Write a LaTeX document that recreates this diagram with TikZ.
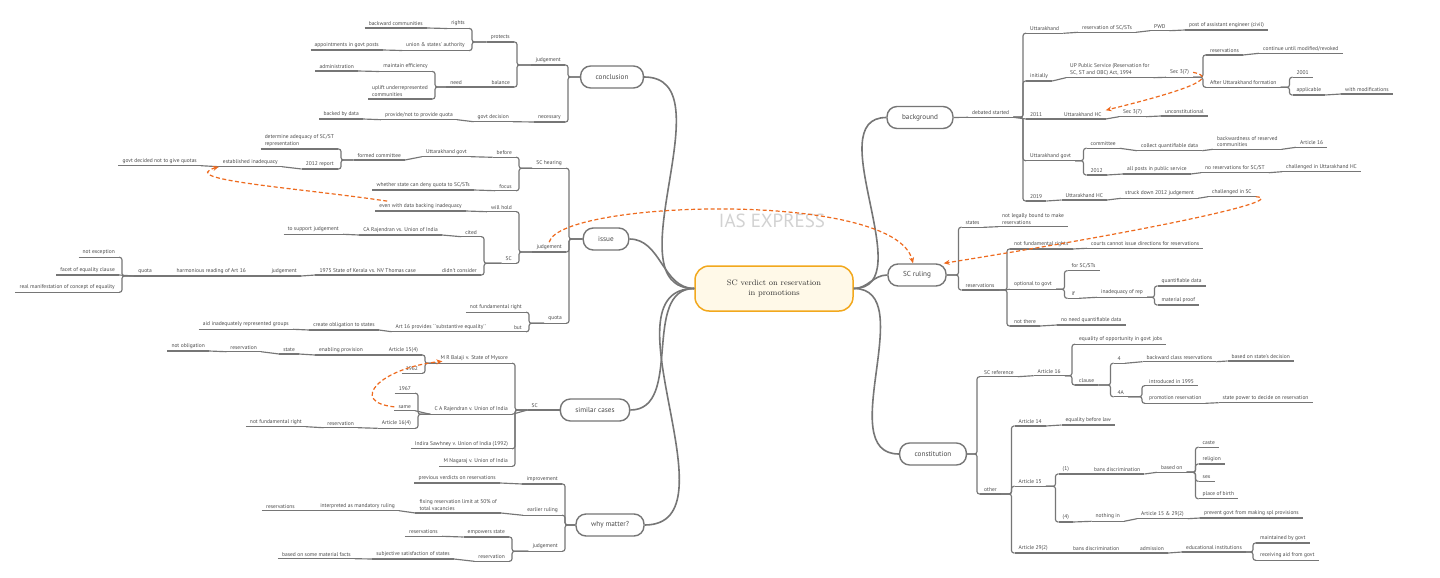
\documentclass[tikz,border=0pt]{standalone}
\usepackage{fontspec}
\newfontfamily\mapfont{PT Sans}
\usetikzlibrary{arrows.meta}
\definecolor{linegray}{HTML}{767676}
\definecolor{txtgray}{HTML}{4A4A4A}
\definecolor{xorange}{HTML}{EE6A1E}
\definecolor{coreline}{HTML}{F2A81D}
\definecolor{corefill}{HTML}{FFF9E8}
\definecolor{wmarkgray}{HTML}{D2D2D2}
\tikzset{
  uline/.style={draw=linegray, line width=1.15pt},
  topic/.style={font=\mapfont\fontsize{5.5}{6.6}\selectfont, text=txtgray, align=left,
    inner xsep=4pt, inner ysep=2.2pt,
    append after command={(\tikzlastnode.south west) edge[uline] (\tikzlastnode.south east)}},
  lt/.style={topic, anchor=south east},
  rt/.style={topic, anchor=south west},
  branch/.style={draw=linegray, line width=1.4pt, fill=white, rounded corners=10pt,
    minimum height=22pt, inner xsep=15pt, font=\mapfont\fontsize{7.2}{9}\selectfont, text=txtgray},
  core/.style={draw=coreline, fill=corefill, line width=1.5pt, rounded corners=14pt,
    minimum width=158pt, minimum height=45pt, align=center, font=\fontsize{8}{10}\selectfont, text=black!80},
  wmark/.style={font=\mapfont\fontsize{19}{22}\selectfont, text=wmarkgray},
  conn/.style={draw=linegray, line width=1.15pt, rounded corners=2.5pt},
  trunk/.style={draw=linegray, line width=1.6pt},
  xref/.style={draw=xorange, line width=1.2pt, dash pattern=on 4pt off 2.5pt,
    -{Stealth[length=6pt,width=5pt]}},
}
\newcommand{\joinL}[2]{\draw[conn] (#2.south east) -- ++(3,0) |- (#1.south west);}
\newcommand{\joinR}[2]{\draw[conn] (#2.south west) -- ++(-3,0) |- (#1.south east);}
\newcommand{\joinLm}[2]{\draw[conn] (#2.south east) -- ++(3,0) |- (#1.west);}
\newcommand{\joinRm}[2]{\draw[conn] (#2.south west) -- ++(-3,0) |- (#1.east);}
\newcommand{\stepL}[2]{\draw[conn] (#1.south west) -- (#2.south east);}
\newcommand{\stepR}[2]{\draw[conn] (#1.south east) -- (#2.south west);}
\newcommand{\stepLm}[2]{\draw[conn] (#1.west) -- (#2.south east);}
\newcommand{\stepRm}[2]{\draw[conn] (#1.east) -- (#2.south west);}

\begin{document}
\begin{tikzpicture}[x=1pt,y=-1pt]
\fill[white] (0,0) rectangle (1440,578);
\useasboundingbox (0,0) rectangle (1440,578);

\node[wmark] (stamp) at (772,221) {IAS EXPRESS};
\node[core] (core) at (774,288.5) {SC verdict on reservation\\in promotions};

% main branches
\node[branch] (concl) at (612,77) {conclusion};
\node[branch] (issue) at (606,239) {issue};
\node[branch] (simil) at (595,410) {similar cases};
\node[branch] (whym) at (610,525) {why matter?};
\node[branch] (backg) at (920,117.5) {background};
\node[branch] (ruling) at (917,275) {SC ruling};
\node[branch] (const) at (933,454) {constitution};
\foreach \nd in {concl,issue,simil,whym} \draw[trunk] (\nd.east) to[out=0,in=180] (core.west);
\foreach \nd in {backg,ruling,const} \draw[trunk] (\nd.west) to[out=180,in=0] (core.east);

% conclusion
\node[lt] (cJud) at (565,65) {judgement};
\node[lt] (cNec) at (565,122) {necessary};
\node[lt] (cProt) at (514,42) {protects};
\node[lt] (cBal) at (514,87) {balance};
\node[lt] (cRights) at (469,28.5) {rights};
\node[lt] (cUnion) at (469,50.5) {union \& states' authority};
\node[lt] (cBack) at (427,28) {backward communities};
\node[lt] (cAppt) at (383,50) {appointments in govt posts};
\node[lt] (cNeed) at (466,87) {need};
\node[lt] (cEff) at (432,71.5) {maintain efficiency};
\node[lt] (cUplift) at (432,99) {uplift underrepresented\\communities};
\node[lt] (cAdmin) at (358,71) {administration};
\node[lt] (cGovt) at (513,121.7) {govt decision};
\node[lt] (cProv) at (457,119.7) {provide/not to provide quota};
\node[lt] (cData) at (363,119) {backed by data};
\joinLm{concl}{cJud} \joinLm{concl}{cNec}
\joinL{cJud}{cProt} \joinL{cJud}{cBal}
\joinL{cProt}{cRights} \joinL{cProt}{cUnion}
\stepL{cRights}{cBack} \stepL{cUnion}{cAppt}
\stepL{cBal}{cNeed}
\joinL{cNeed}{cEff} \joinL{cNeed}{cUplift}
\stepL{cEff}{cAdmin}
\stepL{cNec}{cGovt} \stepL{cGovt}{cProv} \stepL{cProv}{cData}

% issue
\node[lt] (iHear) at (566,168.3) {SC hearing};
\node[lt] (iJud) at (566,252) {judgement};
\node[lt] (iQuota) at (566,323.3) {quota};
\node[lt] (iBefore) at (516,157.3) {before};
\node[lt] (iFocus) at (516,190.7) {focus};
\node[lt] (iUkGovt) at (471,156.7) {Uttarakhand govt};
\node[lt] (iFormed) at (405,160) {formed committee};
\node[lt] (iDet) at (338,149) {determine adequacy of SC/ST\\representation};
\node[lt] (iReport) at (338,169) {2012 report};
\node[lt] (iEstab) at (282,166.7) {established inadequacy};
\node[lt] (iDecided) at (201,165.7) {govt decided not to give quotas};
\node[lt] (iWhether) at (474,190) {whether state can deny quota to SC/STs};
\node[lt] (iHold) at (516,211.7) {will hold};
\node[lt] (iSC) at (516,263.3) {SC};
\node[lt] (iEven) at (466,211) {even with data backing inadequacy};
\node[lt] (iCited) at (481,236.7) {cited};
\node[lt] (iDidnt) at (481,275) {didn't consider};
\node[lt] (iCA) at (442,235) {CA Rajendran vs. Union of India};
\node[lt] (iSupport) at (343,234.3) {to support judgement};
\node[lt] (iKerala) at (420,275) {1975 State of Kerala vs. NV Thomas case};
\node[lt] (iKJud) at (301,276) {judgement};
\node[lt] (iHarm) at (250,276) {harmonious reading of Art 16};
\node[lt] (iQ2) at (156,276) {quota};
\node[lt] (iNotExc) at (119,257.3) {not exception};
\node[lt] (iFacet) at (119,275) {facet of equality clause};
\node[lt] (iReal) at (119,292.3) {real manifestation of concept of equality};
\node[lt] (iNotFund) at (526,312.3) {not fundamental right};
\node[lt] (iBut) at (526,331.7) {but};
\node[lt] (iArt16) at (490,331.7) {Art 16 provides ``substantive equality''};
\node[lt] (iCreate) at (379,330) {create obligation to states};
\node[lt] (iAid) at (293,329.3) {aid inadequately represented groups};
\joinLm{issue}{iHear} \joinLm{issue}{iJud} \joinLm{issue}{iQuota}
\joinL{iHear}{iBefore} \joinL{iHear}{iFocus}
\stepL{iBefore}{iUkGovt} \stepL{iUkGovt}{iFormed}
\joinL{iFormed}{iDet} \joinL{iFormed}{iReport}
\stepL{iReport}{iEstab} \stepL{iEstab}{iDecided}
\stepL{iFocus}{iWhether}
\joinL{iJud}{iHold} \joinL{iJud}{iSC}
\stepL{iHold}{iEven}
\joinL{iSC}{iCited} \joinL{iSC}{iDidnt}
\stepL{iCited}{iCA} \stepL{iCA}{iSupport}
\stepL{iDidnt}{iKerala} \stepL{iKerala}{iKJud} \stepL{iKJud}{iHarm} \stepL{iHarm}{iQ2}
\joinL{iQ2}{iNotExc} \stepL{iQ2}{iFacet} \joinL{iQ2}{iReal}
\joinL{iQuota}{iNotFund} \joinL{iQuota}{iBut}
\stepL{iBut}{iArt16} \stepL{iArt16}{iCreate} \stepL{iCreate}{iAid}

% similar cases
\node[lt] (sSC) at (542,410) {SC};
\node[lt] (sBalaji) at (512,363.3) {M R Balaji v. State of Mysore};
\node[lt] (sCA) at (512,414.3) {C A Rajendran v. Union of India};
\node[lt] (sIndira) at (512,448.7) {Indira Sawhney v. Union of India (1992)};
\node[lt] (sNagaraj) at (512,466.3) {M Nagaraj v. Union of India};
\node[lt] (sA154) at (422,355) {Article 15(4)};
\node[lt] (s1962) at (422,373.3) {1962};
\node[lt] (sEnab) at (367,355) {enabling provision};
\node[lt] (sState) at (299,354) {state};
\node[lt] (sRes) at (261,351.7) {reservation};
\node[lt] (sNotObl) at (209,351) {not obligation};
\node[lt] (s1967) at (415,393.3) {1967};
\node[lt] (sSame) at (415,410.7) {same};
\node[lt] (sA164) at (415,428.3) {Article 16(4)};
\node[lt] (sRes2) at (358,427.7) {reservation};
\node[lt] (sNotFund) at (306,426.7) {not fundamental right};
\stepLm{simil}{sSC}
\joinL{sSC}{sBalaji} \stepL{sSC}{sCA} \joinL{sSC}{sIndira} \joinL{sSC}{sNagaraj}
\joinL{sBalaji}{sA154} \joinL{sBalaji}{s1962}
\stepL{sA154}{sEnab} \stepL{sEnab}{sState} \stepL{sState}{sRes} \stepL{sRes}{sNotObl}
\joinL{sCA}{s1967} \stepL{sCA}{sSame} \joinL{sCA}{sA164}
\stepL{sA164}{sRes2} \stepL{sRes2}{sNotFund}

% why matter?
\node[lt] (wImp) at (562,484) {improvement};
\node[lt] (wEarly) at (562,515.3) {earlier ruling};
\node[lt] (wJud) at (562,551.3) {judgement};
\node[lt] (wPrev) at (500,483) {previous verdicts on reservations};
\node[lt] (wFix) at (501,513) {fixing reservation limit at 50\% of\\total vacancies};
\node[lt] (wInterp) at (399,510.7) {interpreted as mandatory ruling};
\node[lt] (wRes) at (299,510.7) {reservations};
\node[lt] (wEmp) at (509,537) {empowers state};
\node[lt] (wRes2) at (509,561.3) {reservation};
\node[lt] (wRes3) at (442,536.3) {reservations};
\node[lt] (wSubj) at (454,559) {subjective satisfaction of states};
\node[lt] (wBased) at (355,558.7) {based on some material facts};
\joinLm{whym}{wImp} \joinLm{whym}{wEarly} \joinLm{whym}{wJud}
\stepL{wImp}{wPrev} \stepL{wEarly}{wFix} \stepL{wFix}{wInterp} \stepL{wInterp}{wRes}
\joinL{wJud}{wEmp} \joinL{wJud}{wRes2}
\stepL{wEmp}{wRes3} \stepL{wRes2}{wSubj} \stepL{wSubj}{wBased}

% background
\node[rt] (bDeb) at (968,117.3) {debated started};
\node[rt] (bUk) at (1026,33.3) {Uttarakhand};
\node[rt] (bInit) at (1026,81) {initially};
\node[rt] (b2011) at (1026,119) {2011};
\node[rt] (bUkGovt) at (1026,160.7) {Uttarakhand govt};
\node[rt] (b2019) at (1026,201) {2019};
\node[rt] (bResv) at (1078,32.3) {reservation of SC/STs};
\node[rt] (bPWD) at (1150,30.7) {PWD};
\node[rt] (bPost) at (1185,30) {post of assistant engineer (civil)};
\node[rt] (bUP) at (1066,77.7) {UP Public Service (Reservation for\\SC, ST and OBC) Act, 1994};
\node[rt] (bSec) at (1166,77.3) {Sec 3(7)};
\node[rt] (bRsv) at (1206,55) {reservations};
\node[rt] (bAfter) at (1206,87.3) {After Uttarakhand formation};
\node[rt] (bCont) at (1259,53.3) {continue until modified/revoked};
\node[rt] (b2001) at (1292.5,77.3) {2001};
\node[rt] (bAppl) at (1292.5,95) {applicable};
\node[rt] (bMod) at (1341,94) {with modifications};
\node[rt] (bHC) at (1060,119) {Uttarakhand HC};
\node[rt] (bSec2) at (1119,116.7) {Sec 3(7)};
\node[rt] (bUnc) at (1161,116) {unconstitutional};
\node[rt] (bComm) at (1086.5,148.3) {committee};
\node[rt] (b2012) at (1086.5,175) {2012};
\node[rt] (bColl) at (1137,150.7) {collect quantifiable data};
\node[rt] (bBackw) at (1213,149.3) {backwardness of reserved\\communities};
\node[rt] (bA16) at (1296,147.3) {Article 16};
\node[rt] (bAll) at (1123,174) {all posts in public service};
\node[rt] (bNoRes) at (1201,172.7) {no reservations for SC/ST};
\node[rt] (bChalHC) at (1282,171.7) {challenged in Uttarakhand HC};
\node[rt] (bHC2) at (1061.5,200) {Uttarakhand HC};
\node[rt] (bStruck) at (1121,198.3) {struck down 2012 judgement};
\node[rt] (bChalSC) at (1208,196.7) {challenged in SC};
\stepRm{backg}{bDeb}
\joinR{bDeb}{bUk} \joinR{bDeb}{bInit} \stepR{bDeb}{b2011} \joinR{bDeb}{bUkGovt} \joinR{bDeb}{b2019}
\stepR{bUk}{bResv} \stepR{bResv}{bPWD} \stepR{bPWD}{bPost}
\stepR{bInit}{bUP} \stepR{bUP}{bSec}
\joinR{bSec}{bRsv} \joinR{bSec}{bAfter}
\stepR{bRsv}{bCont}
\joinR{bAfter}{b2001} \joinR{bAfter}{bAppl}
\stepR{bAppl}{bMod}
\stepR{b2011}{bHC} \stepR{bHC}{bSec2} \stepR{bSec2}{bUnc}
\joinR{bUkGovt}{bComm} \joinR{bUkGovt}{b2012}
\stepR{bComm}{bColl} \stepR{bColl}{bBackw} \stepR{bBackw}{bA16}
\stepR{b2012}{bAll} \stepR{bAll}{bNoRes} \stepR{bNoRes}{bChalHC}
\stepR{b2019}{bHC2} \stepR{bHC2}{bStruck} \stepR{bStruck}{bChalSC}

% SC ruling
\node[rt] (rStates) at (961.5,227.3) {states};
\node[rt] (rRes) at (961.5,290) {reservations};
\node[rt] (rBound) at (998,226.7) {not legally bound to make\\reservations};
\node[rt] (rNotFund) at (1010,249) {not fundamental rights};
\node[rt] (rOpt) at (1010,289.3) {optional to govt};
\node[rt] (rNotThere) at (1010,326) {not there};
\node[rt] (rCourts) at (1087,248.3) {courts cannot issue directions for reservations};
\node[rt] (rFor) at (1067.5,270.7) {for SC/STs};
\node[rt] (rIf) at (1067.5,298.3) {if};
\node[rt] (rInad) at (1097,297.3) {inadequacy of rep};
\node[rt] (rQuant) at (1157.5,286) {quantifiable data};
\node[rt] (rMat) at (1157.5,305) {material proof};
\node[rt] (rNoNeed) at (1057,325) {no need quantifiable data};
\joinRm{ruling}{rStates} \joinRm{ruling}{rRes}
\stepR{rStates}{rBound}
\joinR{rRes}{rNotFund} \stepR{rRes}{rOpt} \joinR{rRes}{rNotThere}
\stepR{rNotFund}{rCourts}
\joinR{rOpt}{rFor} \joinR{rOpt}{rIf}
\stepR{rIf}{rInad}
\joinR{rInad}{rQuant} \joinR{rInad}{rMat}
\stepR{rNotThere}{rNoNeed}

% constitution
\node[rt] (kRef) at (980,376.7) {SC reference};
\node[rt] (kOther) at (980,494) {other};
\node[rt] (kA16) at (1033.5,375.7) {Article 16};
\node[rt] (kEqOpp) at (1075,344.3) {equality of opportunity in govt jobs};
\node[rt] (kClause) at (1075,385) {clause};
\node[rt] (k4) at (1113.5,363.3) {4};
\node[rt] (k4A) at (1113.5,396.7) {4A};
\node[rt] (kBackCl) at (1142.5,361.7) {backward class reservations};
\node[rt] (kStateDec) at (1227.5,361) {based on state's decision};
\node[rt] (kIntro) at (1145,385.7) {introduced in 1995};
\node[rt] (kPromo) at (1145,403.3) {promotion reservation};
\node[rt] (kPower) at (1218.5,402.7) {state power to decide on reservation};
\node[rt] (kA14) at (1014.5,426) {Article 14};
\node[rt] (kA15) at (1014.5,486.3) {Article 15};
\node[rt] (kA29) at (1014.5,553) {Article 29(2)};
\node[rt] (kEqLaw) at (1061.5,425) {equality before law};
\node[rt] (k1) at (1058.5,474) {(1)};
\node[rt] (k4b) at (1058.5,522) {(4)};
\node[rt] (kBans) at (1090,474) {bans discrimination};
\node[rt] (kBasedOn) at (1157,472.3) {based on};
\node[rt] (kCaste) at (1198.5,447.3) {caste};
\node[rt] (kRelig) at (1198.5,464) {religion};
\node[rt] (kSex) at (1198.5,481.3) {sex};
\node[rt] (kBirth) at (1198.5,498.7) {place of birth};
\node[rt] (kNothing) at (1091.5,521.3) {nothing in};
\node[rt] (kA1529) at (1137,518.7) {Article 15 \& 29(2)};
\node[rt] (kPrevent) at (1200,518) {prevent govt from making spl provisions};
\node[rt] (kBans2) at (1069,553) {bans discrimination};
\node[rt] (kAdm) at (1136,553) {admission};
\node[rt] (kEdu) at (1182,552) {educational institutions};
\node[rt] (kMaint) at (1256,543) {maintained by govt};
\node[rt] (kAid) at (1256,560.3) {receiving aid from govt};
\joinRm{const}{kRef} \joinRm{const}{kOther}
\stepR{kRef}{kA16}
\joinR{kA16}{kEqOpp} \joinR{kA16}{kClause}
\joinR{kClause}{k4} \joinR{kClause}{k4A}
\stepR{k4}{kBackCl} \stepR{kBackCl}{kStateDec}
\joinR{k4A}{kIntro} \joinR{k4A}{kPromo}
\stepR{kPromo}{kPower}
\joinR{kOther}{kA14} \joinR{kOther}{kA15} \joinR{kOther}{kA29}
\stepR{kA14}{kEqLaw}
\joinR{kA15}{k1} \joinR{kA15}{k4b}
\stepR{k1}{kBans} \stepR{kBans}{kBasedOn}
\joinR{kBasedOn}{kCaste} \joinR{kBasedOn}{kRelig} \joinR{kBasedOn}{kSex} \joinR{kBasedOn}{kBirth}
\stepR{k4b}{kNothing} \stepR{kNothing}{kA1529} \stepR{kA1529}{kPrevent}
\stepR{kA29}{kBans2} \stepR{kBans2}{kAdm} \stepR{kAdm}{kEdu}
\joinR{kEdu}{kMaint} \joinR{kEdu}{kAid}

% cross references
\draw[xref] ([xshift=12pt]iEven.north west) .. controls (300,188) and (175,180) .. (iEstab.south west);
\draw[xref] (iJud.north) .. controls (560,200) and (895,190) .. ([xshift=-4pt]ruling.north);
\draw[xref] (bChalSC.south east) .. controls (1285,199) and (1200,222) .. ([xshift=-3pt]ruling.north east);
\draw[xref] (bSec.east) .. controls (1222,78) and (1180,92) .. (bHC.north east);
\draw[xref] (sSame.west) .. controls (348,402) and (380,368) .. ([xshift=6pt,yshift=2pt]sBalaji.south west);
\end{tikzpicture}
\end{document}
